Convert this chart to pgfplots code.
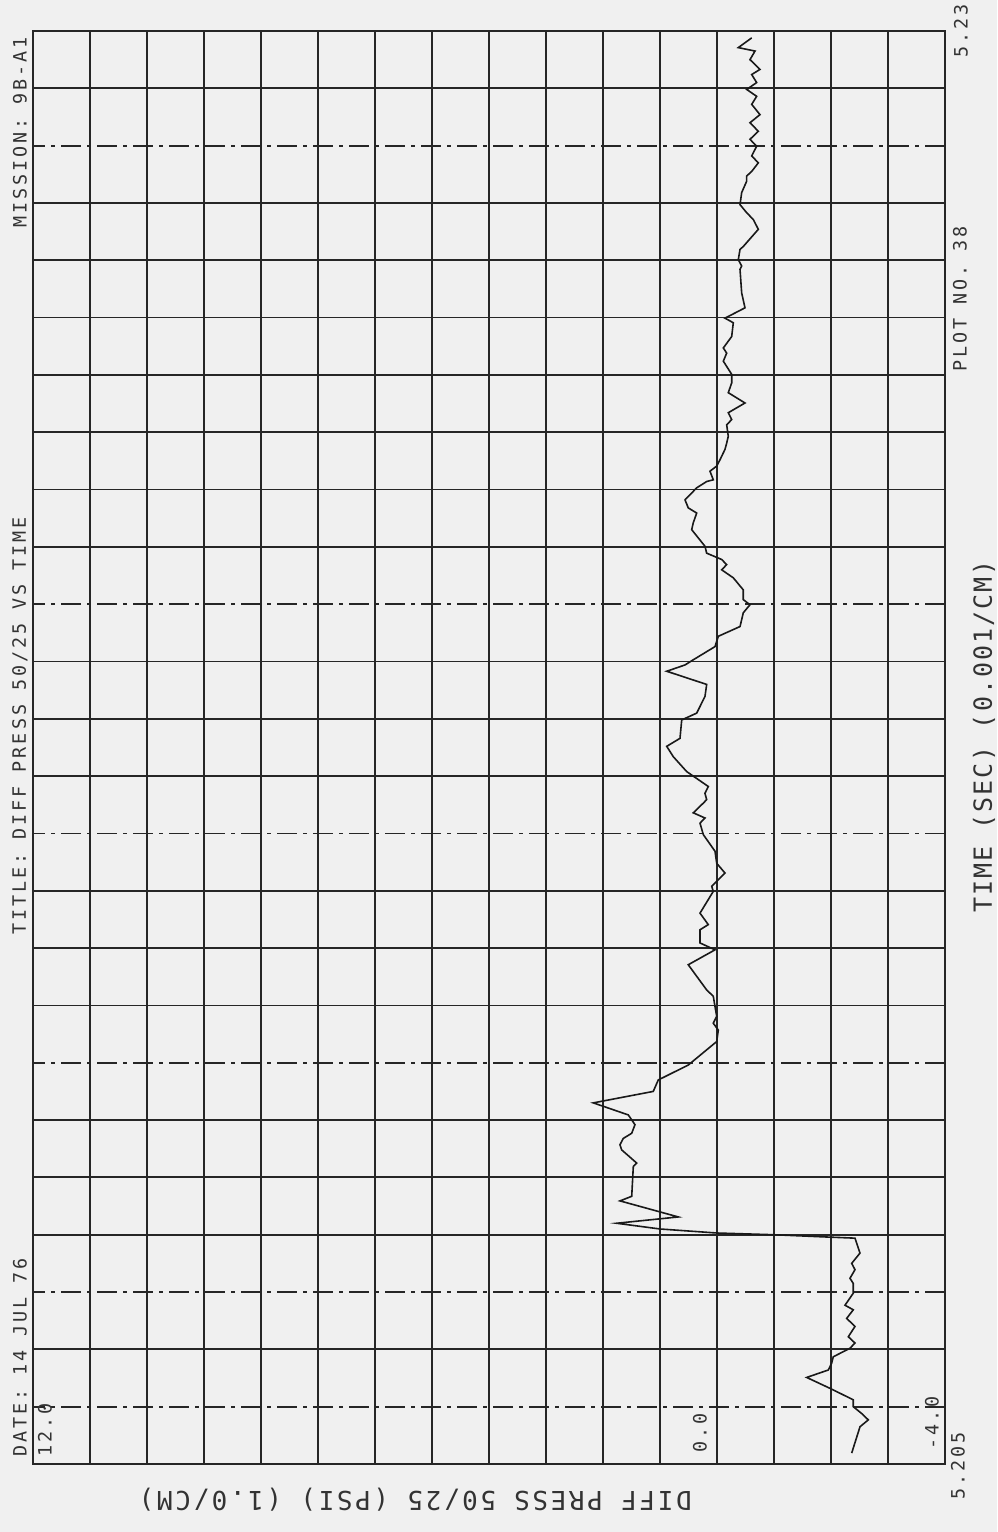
\documentclass[border=0pt]{standalone}
\usepackage{pgfplots}
\pgfplotsset{compat=1.18}
\usepackage{pgfplotstable}
\usepackage{fontspec}
\newfontfamily\pf[LetterSpace=16]{DejaVu Sans Mono}
\newfontfamily\pfb[LetterSpace=10]{DejaVu Sans Mono}
\newfontfamily\pfr[LetterSpace=8]{DejaVu Sans Mono}
\pgfplotstableread{
t p
5.20519 -2.363
5.20565 -2.509
5.20577 -2.654
5.20588 -2.539
5.20600 -2.391
5.20612 -2.391
5.20632 -1.982
5.20651 -1.574
5.20664 -1.953
5.20676 -2.012
5.20687 -2.040
5.20702 -2.333
5.20711 -2.421
5.20722 -2.304
5.20740 -2.421
5.20754 -2.275
5.20769 -2.391
5.20777 -2.246
5.20798 -2.391
5.20815 -2.391
5.20824 -2.333
5.20839 -2.421
5.20850 -2.363
5.20868 -2.509
5.20885 -2.451
5.20894 -2.421
5.20896 -1.925
5.20900 -0.988
5.20903 0.005
5.20910 1.000
5.20920 1.760
5.20931 0.679
5.20959 1.702
5.20967 1.496
5.21019 1.468
5.21025 1.409
5.21048 1.672
5.21057 1.702
5.21068 1.644
5.21077 1.496
5.21092 1.439
5.21109 1.556
5.21130 2.170
5.21150 1.118
5.21170 1.030
5.21196 0.504
5.21237 0.005
5.21257 -0.023
5.21269 0.065
5.21281 0.005
5.21298 0.035
5.21316 0.065
5.21327 0.181
5.21371 0.504
5.21397 0.035
5.21409 0.298
5.21432 0.298
5.21441 0.153
5.21461 0.298
5.21499 0.065
5.21508 0.093
5.21531 -0.140
5.21548 0.005
5.21569 0.035
5.21598 0.240
5.21618 0.298
5.21627 0.211
5.21636 0.416
5.21653 0.240
5.21659 0.181
5.21670 0.211
5.21682 0.153
5.21708 0.532
5.21734 0.767
5.21752 0.882
5.21766 0.649
5.21798 0.619
5.21810 0.356
5.21839 0.211
5.21860 0.181
5.21883 0.882
5.21894 0.561
5.21903 0.416
5.21926 0.035
5.21944 -0.023
5.21961 -0.404
5.21973 -0.433
5.21985 -0.461
5.21999 -0.579
5.22008 -0.461
5.22025 -0.461
5.22046 -0.286
5.22060 -0.082
5.22069 -0.170
5.22078 -0.082
5.22089 0.181
5.22101 0.211
5.22130 0.444
5.22142 0.416
5.22159 0.356
5.22168 0.504
5.22182 0.561
5.22203 0.356
5.22214 0.181
5.22217 0.065
5.22232 0.123
5.22241 0.005
5.22252 -0.053
5.22270 -0.140
5.22281 -0.170
5.22293 -0.198
5.22313 -0.170
5.22322 -0.258
5.22334 -0.198
5.22351 -0.491
5.22369 -0.198
5.22386 -0.258
5.22401 -0.258
5.22424 -0.111
5.22438 -0.170
5.22447 -0.111
5.22467 -0.258
5.22491 -0.286
5.22499 -0.140
5.22517 -0.491
5.22543 -0.433
5.22584 -0.404
5.22590 -0.433
5.22601 -0.374
5.22619 -0.404
5.22624 -0.461
5.22654 -0.725
5.22671 -0.637
5.22683 -0.521
5.22697 -0.404
5.22718 -0.433
5.22738 -0.521
5.22747 -0.521
5.22755 -0.609
5.22770 -0.725
5.22782 -0.609
5.22799 -0.696
5.22811 -0.579
5.22825 -0.725
5.22840 -0.579
5.22854 -0.754
5.22872 -0.609
5.22886 -0.696
5.22898 -0.521
5.22910 -0.696
5.22924 -0.609
5.22933 -0.754
5.22950 -0.579
5.22965 -0.667
5.22971 -0.374
5.22988 -0.609
}\data
\begin{document}
\begin{tikzpicture}
\path[use as bounding box, fill=black!6] (-16.5pt,-34pt) rectangle (482pt,732pt);
\begin{axis}[
  at={(0pt,0pt)}, anchor=south west,
  scale only axis, width=456pt, height=716.5pt,
  xmin=-4, xmax=12, x dir=reverse,
  ymin=5.205, ymax=5.230,
  xtick={-3,-2,-1,0,1,2,3,4,5,6,7,8,9,10,11},
  ytick={5.207,5.209,5.210,5.211,5.213,5.214,5.215,5.217,5.218,5.219,5.221,5.222,5.223,5.224,5.225,5.226,5.227,5.229},
  extra y ticks={5.206,5.208,5.212,5.216,5.220,5.228},
  extra y tick labels={},
  extra y tick style={grid style={black!85, line width=0.9pt, dash pattern=on 10pt off 3pt on 2pt off 3pt}},
  xticklabels={}, yticklabels={},
  major tick length=0pt,
  grid=major,
  grid style={black!85, line width=0.9pt},
  axis line style={black!85, line width=0.9pt},
  clip=false,
]
\addplot[black!90, line width=0.8pt, no markers] table[x=p, y=t] {\data};
\end{axis}
\tikzset{lab/.style={font=\pf\fontsize{9.2}{11}\selectfont, text=black!80, inner sep=0pt, rotate=90}}
\node[lab, anchor=west] at (-6.5pt,3.5pt) {DATE: 14 JUL 76};
\node[lab, anchor=east] at (-6.5pt,473.5pt) {TITLE: DIFF PRESS 50/25 VS TIME};
\node[lab, anchor=east] at (-6.5pt,713.5pt) {MISSION: 9B-A1};
\node[lab, anchor=west] at (6pt,3.5pt) {12.0};
\node[lab, anchor=west] at (333.5pt,5.5pt) {0.0};
\node[lab, anchor=west] at (449.5pt,7pt) {-4.0};
\node[lab, anchor=west] at (462.5pt,-18pt) {5.205};
\node[lab, anchor=west] at (464pt,703pt) {5.23};
\node[lab, anchor=west] at (463.5pt,546pt) {PLOT NO. 38};
\node[font=\pfr\fontsize{12.5}{15}\selectfont, text=black!80, inner sep=0pt, rotate=90, anchor=west] at (475.5pt,275.5pt) {TIME (SEC) (0.001/CM)};
\node[font=\pfb\fontsize{13}{15}\selectfont, text=black!80, inner sep=0pt, rotate=180, anchor=west] at (329.5pt,-18pt) {DIFF PRESS 50/25 (PSI) (1.0/CM)};
\end{tikzpicture}
\end{document}
